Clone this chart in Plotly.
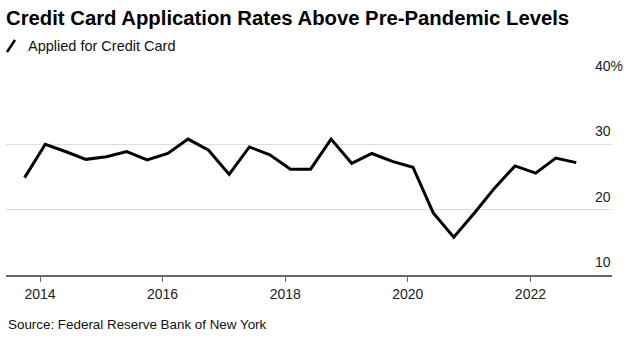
import plotly.graph_objects as go

# Survey waves (Feb / Jun / Oct), Oct 2013 – Oct 2022
dates = [
    "2013-10-01",
    "2014-02-01", "2014-06-01", "2014-10-01",
    "2015-02-01", "2015-06-01", "2015-10-01",
    "2016-02-01", "2016-06-01", "2016-10-01",
    "2017-02-01", "2017-06-01", "2017-10-01",
    "2018-02-01", "2018-06-01", "2018-10-01",
    "2019-02-01", "2019-06-01", "2019-10-01",
    "2020-02-01", "2020-06-01", "2020-10-01",
    "2021-02-01", "2021-06-01", "2021-10-01",
    "2022-02-01", "2022-06-01", "2022-10-01",
]
applied = [
    24.9,
    30.0, 28.9, 27.7,
    28.1, 28.9, 27.6,
    28.6, 30.8, 29.1,
    25.4, 29.6, 28.4,
    26.2, 26.2, 30.8,
    27.1, 28.6, 27.4,
    26.5, 19.5, 15.8,
    19.5, 23.3, 26.7,
    25.6, 27.9, 27.2,
]

x_tickvals = ["2014-01-01", "2016-01-01", "2018-01-01", "2020-01-01", "2022-01-01"]
x_ticktext = ["2014", "2016", "2018", "2020", "2022"]
y_tickvals = [10, 20, 30, 40]
y_ticktext = ["10", "20", "30", "40%"]

FONT = "Liberation Sans, Arial, sans-serif"

fig = go.Figure()
fig.add_trace(go.Scatter(
    x=dates, y=applied, mode="lines",
    line=dict(color="#000000", width=3),
    name="Applied for Credit Card",
    showlegend=False, hoverinfo="skip",
))

annotations = []
for v, t in zip(y_tickvals, y_ticktext):
    annotations.append(dict(
        x=0.969, xref="paper", y=v, yref="y",
        text=t, showarrow=False, xanchor="left", yanchor="middle",
        yshift=13, font=dict(family=FONT, size=14, color="#222222"),
    ))
# legend text
annotations.append(dict(
    x=(26 - 6) / 605.7, xref="paper", y=(275 - 46) / 196, yref="paper",
    text="Applied for Credit Card", showarrow=False,
    xanchor="left", yanchor="middle",
    font=dict(family=FONT, size=14.5, color="#111111"),
))
# source
annotations.append(dict(
    x=0, xref="paper", y=(275 - 324) / 196, yref="paper",
    text="Source: Federal Reserve Bank of New York", showarrow=False,
    xanchor="left", yanchor="middle",
    font=dict(family=FONT, size=13.4, color="#111111"),
))

shapes = [dict(
    type="line", xref="paper", yref="paper",
    x0=(7 - 6) / 605.7, y0=(275 - 52) / 196,
    x1=(15 - 6) / 605.7, y1=(275 - 40) / 196,
    line=dict(color="#000000", width=2.5),
)]

fig.update_layout(
    width=627, height=338,
    margin=dict(l=6, r=15, t=79, b=63),
    paper_bgcolor="white", plot_bgcolor="white",
    title=dict(
        text="<b>Credit Card Application Rates Above Pre-Pandemic Levels</b>",
        x=6 / 627, xanchor="left", xref="container",
        y=1 - 18 / 338, yanchor="middle", yref="container",
        font=dict(family=FONT, size=20.3, color="#000000"),
    ),
    xaxis=dict(
        type="date",
        range=["2013-06-12", "2023-05-02"],
        tickvals=x_tickvals, ticktext=x_ticktext,
        showgrid=False, zeroline=False,
        showline=True, linecolor="#666666", linewidth=1.5,
        ticks="outside", ticklen=5, tickcolor="#666666", tickwidth=1,
        tickfont=dict(family=FONT, size=14, color="#222222"),
        fixedrange=True,
    ),
    yaxis=dict(
        range=[10, 40],
        tickvals=y_tickvals, showticklabels=False,
        showgrid=True, gridcolor="#dddddd", gridwidth=1,
        zeroline=False, showline=False, ticks="",
        fixedrange=True,
    ),
    annotations=annotations,
    shapes=shapes,
    showlegend=False,
)

fig.write_html("out.html")
